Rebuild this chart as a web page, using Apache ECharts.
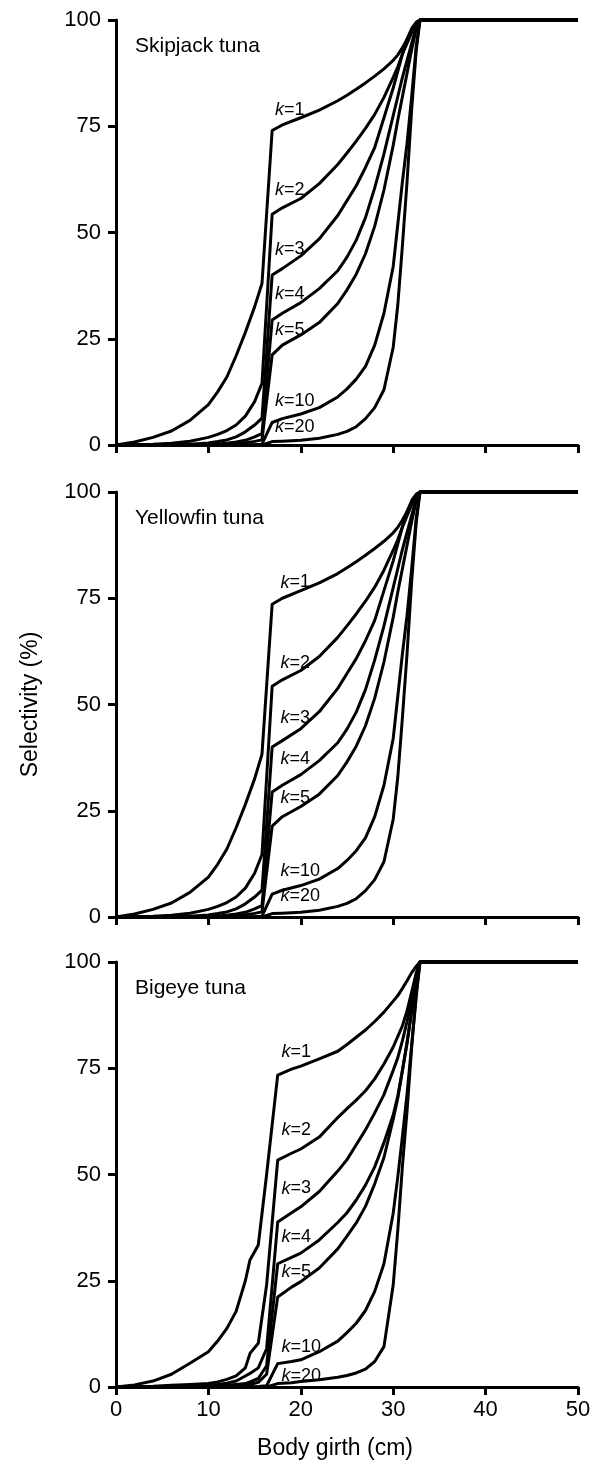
<!DOCTYPE html>
<html>
<head>
<meta charset="utf-8">
<title>Selectivity by body girth</title>
<script src="https://cdn.jsdelivr.net/npm/echarts@6/dist/echarts.min.js"></script>
<style>
  html, body { margin: 0; padding: 0; background: #fff; }
  #chart { width: 596px; height: 1466px; }
</style>
</head>
<body>
<div id="chart"></div>
<script>
// girth grids (cm) the curves were read at
const girthA = [0, 2, 4, 6, 8, 10, 11, 12, 13, 14, 15, 15.8, 16.9, 18, 20, 22, 24, 25, 26, 27, 28, 29, 30, 30.5, 31, 31.5, 32, 32.5, 32.9, 50];
const girthB = [0, 2, 4, 6, 8, 10, 11, 12, 13, 14, 14.5, 15.4, 16.3, 17.5, 19, 20, 22, 24, 25, 26, 27, 28, 29, 30, 30.5, 31, 31.5, 32, 32.5, 32.9, 50];

const kValues = [1, 2, 3, 4, 5, 10, 20];
const speciesNames = ["Skipjack tuna", "Yellowfin tuna", "Bigeye tuna"];

// selectivity (%) rows follow kValues
const skipjackSel = [
  [0, 0.7, 1.8, 3.3, 5.8, 9.5, 12.5, 16, 21, 26.5, 32.5, 38, 74, 75.3, 77, 78.8, 81, 82.3, 83.7, 85.2, 86.8, 88.5, 90.5, 91.8, 93.5, 95.5, 97.5, 99.3, 100, 100],
  [0, 0.1, 0.2, 0.4, 0.9, 1.8, 2.5, 3.4, 4.7, 6.8, 10.2, 14.5, 54.3, 55.8, 58, 61.5, 66, 68.7, 71.5, 74.5, 77.8, 81.8, 86.5, 89, 92, 94.5, 97, 99, 100, 100],
  [0, 0, 0.05, 0.1, 0.2, 0.5, 0.8, 1.2, 1.9, 3.1, 4.7, 6.3, 40, 41.5, 44.5, 48.5, 54, 57.5, 61, 65.3, 70, 77, 84, 88, 92, 95.5, 98, 99.5, 100, 100],
  [0, 0, 0, 0.02, 0.05, 0.15, 0.25, 0.4, 0.7, 1.1, 1.9, 2.7, 29.4, 31, 33.5, 36.8, 41, 44.2, 48.2, 53.5, 60.5, 68.5, 77.5, 82, 86.5, 90.5, 94.5, 98.5, 100, 100],
  [0, 0, 0, 0, 0.02, 0.05, 0.1, 0.15, 0.3, 0.5, 0.85, 1.2, 21.2, 23.5, 25.9, 28.8, 33.3, 36.5, 40.2, 45, 51.5, 60, 70.5, 76.5, 82, 87.5, 93, 98, 100, 100],
  [0, 0, 0, 0, 0, 0, 0, 0.02, 0.04, 0.07, 0.12, 0.2, 5.3, 6.2, 7.3, 8.8, 11.3, 13.2, 15.5, 18.5, 23.5, 31, 42, 52, 62, 71, 82, 94, 100, 100],
  [0, 0, 0, 0, 0, 0, 0, 0, 0, 0, 0, 0, 0.8, 0.9, 1.1, 1.6, 2.5, 3.2, 4.3, 6.2, 8.8, 13, 23, 33, 47, 62, 79, 93, 100, 100]
];

const yellowfinSel = [
  [0, 0.7, 1.8, 3.3, 5.8, 9.4, 12.4, 16, 21, 26.5, 32.5, 38.3, 73.6, 75, 76.8, 78.6, 80.8, 82.2, 83.6, 85.1, 86.7, 88.4, 90.4, 91.7, 93.4, 95.4, 97.4, 99.2, 100, 100],
  [0, 0.1, 0.2, 0.4, 0.9, 1.8, 2.5, 3.4, 4.7, 6.8, 10.3, 14.7, 54.3, 55.8, 58, 61.3, 65.8, 68.5, 71.3, 74.3, 77.6, 81.6, 86.3, 88.8, 91.8, 94.4, 97, 99, 100, 100],
  [0, 0, 0.05, 0.1, 0.2, 0.5, 0.8, 1.2, 1.9, 3.1, 4.7, 6.3, 40, 41.5, 44.3, 48.3, 53.8, 57.3, 60.8, 65, 69.8, 76.8, 83.8, 87.8, 91.8, 95.4, 98, 99.5, 100, 100],
  [0, 0, 0, 0.02, 0.05, 0.15, 0.25, 0.4, 0.7, 1.1, 1.9, 2.7, 29.4, 31, 33.5, 36.8, 41, 44.2, 48.2, 53.5, 60.5, 68.5, 77.5, 82, 86.5, 90.5, 94.5, 98.5, 100, 100],
  [0, 0, 0, 0, 0.02, 0.05, 0.1, 0.15, 0.3, 0.5, 0.85, 1.2, 21.4, 23.6, 26, 28.9, 33.3, 36.5, 40.2, 45, 51.5, 60, 70.5, 76.5, 82, 87.5, 93, 98, 100, 100],
  [0, 0, 0, 0, 0, 0, 0, 0.02, 0.04, 0.07, 0.12, 0.2, 5.4, 6.3, 7.4, 8.9, 11.4, 13.3, 15.6, 18.6, 23.6, 31, 42, 52, 62, 71, 82, 94, 100, 100],
  [0, 0, 0, 0, 0, 0, 0, 0, 0, 0, 0, 0, 0.8, 0.9, 1.1, 1.6, 2.5, 3.2, 4.3, 6.2, 8.8, 13, 23, 33, 47, 62, 79, 93, 100, 100]
];

const bigeyeSel = [
  [0, 0.5, 1.4, 3, 5.6, 8.3, 10.8, 13.8, 17.8, 25, 29.9, 33.4, 50, 73.4, 74.8, 75.5, 77.2, 79, 80.6, 82.3, 84, 86, 88.2, 90.8, 92.1, 93.8, 95.6, 97.5, 99, 100, 100],
  [0, 0.1, 0.2, 0.4, 0.6, 0.8, 1.2, 1.8, 2.6, 4.5, 7.9, 10.3, 24, 53.4, 55, 56, 58.8, 63.4, 65.5, 67.5, 69.7, 72.5, 76, 80, 82.5, 85, 88.5, 93, 97.5, 100, 100],
  [0, 0, 0, 0.1, 0.2, 0.4, 0.6, 0.9, 1.4, 2.6, 3.2, 4.5, 9, 38.8, 41, 42.4, 46, 50.8, 53.5, 57, 60.5, 64.5, 68.8, 74.5, 77.5, 81.5, 86, 91, 96.5, 100, 100],
  [0, 0, 0, 0, 0.05, 0.15, 0.25, 0.4, 0.6, 0.8, 1.2, 2, 5, 29, 30.5, 31.5, 34.6, 38.7, 41, 44, 47.5, 51.8, 57.5, 64, 68.5, 74.5, 81, 88.5, 96, 100, 100],
  [0, 0, 0, 0, 0, 0.05, 0.1, 0.15, 0.25, 0.4, 0.6, 1.1, 3, 21.2, 23.5, 24.8, 28, 32.5, 35.5, 38.6, 42.5, 47.8, 54, 63, 68, 74.5, 81, 88.5, 96, 100, 100],
  [0, 0, 0, 0, 0, 0, 0, 0.02, 0.04, 0.06, 0.08, 0.1, 0.3, 5.5, 6, 6.4, 8.3, 10.8, 12.8, 15, 18, 22.5, 29, 40.9, 49.5, 59, 69, 80.5, 92, 100, 100],
  [0, 0, 0, 0, 0, 0, 0, 0, 0, 0, 0, 0, 0, 0.8, 1, 1.3, 1.7, 2.3, 2.7, 3.3, 4.2, 6, 9.5, 24, 37, 52, 65, 80, 93, 100, 100]
];

// where each "k=" label sits (girth, selectivity of its left-middle point)
const labelSpots = [
  [[17.2, 78.8], [17.2, 60], [17.2, 46], [17.2, 35.5], [17.2, 27], [17.2, 10.4], [17.2, 4.2]],
  [[17.8, 78.7], [17.8, 59.8], [17.8, 46.9], [17.8, 37.1], [17.8, 28.1], [17.8, 10.8], [17.8, 4.9]],
  [[17.9, 78.9], [17.9, 60.5], [17.9, 46.7], [17.9, 35.4], [17.9, 27.1], [17.9, 9.5], [17.9, 2.6]]
];

const panels = [
  { girth: girthA, sel: skipjackSel },
  { girth: girthA, sel: yellowfinSel },
  { girth: girthB, sel: bigeyeSel }
];

const FONT = "Liberation Sans, Arial, sans-serif";
const gridTops = [20, 492, 962];
const plotH = 425;

const chart = echarts.init(document.getElementById("chart"), null, { renderer: "canvas" });

const grids = [], xAxes = [], yAxes = [], series = [], titles = [];

panels.forEach((p, i) => {
  grids.push({ left: 116, width: 462, top: gridTops[i], height: plotH });
  titles.push({
    text: speciesNames[i],
    left: 135,
    top: gridTops[i] + 16,
    padding: 0,
    textStyle: { fontFamily: FONT, fontSize: 21, fontWeight: "normal", color: "#000" }
  });
  const last = i === panels.length - 1;
  xAxes.push({
    type: "value",
    gridIndex: i,
    min: 0,
    max: 50,
    interval: 10,
    splitLine: { show: false },
    axisLine: { show: true, onZero: false, lineStyle: { color: "#000", width: 3 } },
    axisTick: { show: true, length: 8, lineStyle: { color: "#000", width: 3 } },
    axisLabel: { show: last, margin: 12, color: "#000", fontFamily: FONT, fontSize: 22 },
    name: last ? "Body girth (cm)" : "",
    nameLocation: "middle",
    nameGap: 50,
    nameTextStyle: { color: "#000", fontFamily: FONT, fontSize: 23, padding: [0, 24, 0, 0] }
  });
  yAxes.push({
    type: "value",
    gridIndex: i,
    min: 0,
    max: 100,
    interval: 25,
    splitLine: { show: false },
    axisLine: { show: true, lineStyle: { color: "#000", width: 3 } },
    axisTick: { show: true, length: 8, lineStyle: { color: "#000", width: 3 } },
    axisLabel: { margin: 15, color: "#000", fontFamily: FONT, fontSize: 22 },
    name: i === 1 ? "Selectivity (%)" : "",
    nameLocation: "middle",
    nameGap: 74,
    nameRotate: 90,
    nameTextStyle: { color: "#000", fontFamily: FONT, fontSize: 23 }
  });

  p.sel.forEach((row, j) => {
    series.push({
      name: speciesNames[i] + " k=" + kValues[j],
      type: "line",
      xAxisIndex: i,
      yAxisIndex: i,
      data: row.map((v, n) => [p.girth[n], v]),
      showSymbol: false,
      clip: false,
      silent: true,
      lineStyle: { color: "#000", width: 3, join: "round" },
      z: 3
    });
  });

  series.push({
    type: "scatter",
    xAxisIndex: i,
    yAxisIndex: i,
    symbolSize: 0,
    silent: true,
    itemStyle: { opacity: 1, color: "#000" },
    data: labelSpots[i].map((s, j) => [s[0], s[1], kValues[j]]),
    label: {
      show: true,
      position: "right",
      distance: 0,
      color: "#000",
      fontFamily: FONT,
      fontSize: 18,
      formatter: (d) => "{i|k}=" + d.value[2],
      rich: {
        i: { fontFamily: FONT, fontSize: 18, fontStyle: "italic", color: "#000" }
      }
    },
    z: 5
  });
});

chart.setOption({
  animation: false,
  backgroundColor: "#fff",
  title: titles,
  grid: grids,
  xAxis: xAxes,
  yAxis: yAxes,
  series: series
});
</script>
</body>
</html>
